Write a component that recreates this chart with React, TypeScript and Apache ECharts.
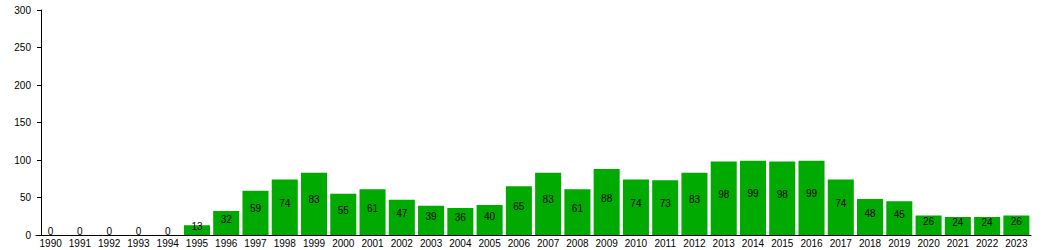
import React, { useEffect, useRef } from "react";
import * as echarts from "echarts";

const years = [
  "1990","1991","1992","1993","1994","1995","1996","1997","1998","1999",
  "2000","2001","2002","2003","2004","2005","2006","2007","2008","2009",
  "2010","2011","2012","2013","2014","2015","2016","2017","2018","2019",
  "2020","2021","2022","2023",
];
const counts = [
  0, 0, 0, 0, 0, 13, 32, 59, 74, 83,
  55, 61, 47, 39, 36, 40, 65, 83, 61, 88,
  74, 73, 83, 98, 99, 98, 99, 74, 48, 45,
  26, 24, 24, 26,
];
const yTicks = [0, 50, 100, 150, 200, 250, 300];

export default function App() {
  const ref = useRef<HTMLDivElement>(null);
  useEffect(() => {
    if (!ref.current) return;
    const chart = echarts.init(ref.current, null, { renderer: "svg" });
    const font = "Liberation Sans, Arial, Helvetica, sans-serif";
    chart.setOption({
      animation: false,
      grid: { left: 36, right: 29, top: 10, bottom: 15, containLabel: false },
      xAxis: {
        type: "category",
        data: years,
        axisLine: { show: true, lineStyle: { color: "#000", width: 1 } },
        axisTick: { show: false },
        axisLabel: { color: "#000", fontSize: 10, fontFamily: font, margin: 3, interval: 0 },
        splitLine: { show: false },
      },
      yAxis: {
        type: "value",
        min: yTicks[0],
        max: yTicks[yTicks.length - 1],
        interval: 50,
        offset: -5,
        axisLine: { show: true, lineStyle: { color: "#000", width: 1 } },
        axisTick: { show: true, length: 4, lineStyle: { color: "#000" } },
        axisLabel: { color: "#000", fontSize: 10, fontFamily: font, margin: 10 },
        splitLine: { show: false },
      },
      series: [
        {
          type: "bar",
          data: counts,
          barCategoryGap: "11%",
          itemStyle: { color: "#00aa00" },
          label: {
            show: true,
            position: "inside",
            offset: [0, -4],
            color: "#000",
            fontSize: 10,
            fontFamily: font,
          },
        },
      ],
    });
    return () => chart.dispose();
  }, []);
  return <div ref={ref} style={{ width: 1060, height: 250, position: "absolute", left: 0, top: 0 }} />;
}
